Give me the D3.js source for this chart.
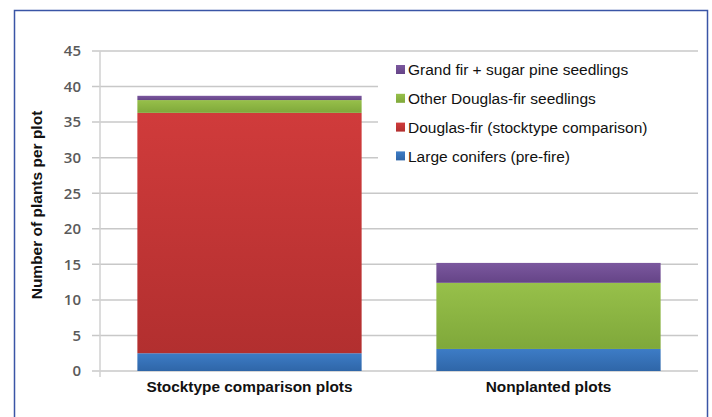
<!DOCTYPE html>
<html>
<head>
<meta charset="utf-8">
<script src="https://cdn.jsdelivr.net/npm/d3@7"></script>
<style>
  body { margin: 0; background: #fff; }
  svg { display: block; font-family: "Liberation Sans", Arial, sans-serif; }
</style>
</head>
<body>
<svg id="chart" width="712" height="417"></svg>
<script>
// ------ Data
var categories = ["Stocktype comparison plots", "Nonplanted plots"];
var seriesNames = ["Large conifers (pre-fire)", "Douglas-fir (stocktype comparison)", "Other Douglas-fir seedlings", "Grand fir + sugar pine seedlings"];
var largeConifers = [2.5, 3.1];
var douglasFirStock = [33.8, 0];
var otherDouglasFir = [1.8, 9.3];
var grandFirSugarPine = [0.6, 2.8];
var yTicks = [0, 5, 10, 15, 20, 25, 30, 35, 40, 45];

var colors = ["#3d7cc6", "#d03b3b", "#97c04a", "#7b589e"];
var darker = ["#2f66a8", "#b22f2f", "#7fa83a", "#654487"];

// rows for the stack
var rows = categories.map(function(c, i) {
  return { cat: c, s0: largeConifers[i], s1: douglasFirStock[i], s2: otherDouglasFir[i], s3: grandFirSugarPine[i] };
});
var stack = d3.stack().keys(["s0", "s1", "s2", "s3"])(rows);

// Margins and sizes
var margin = {left: 100, right: 14, top: 51, bottom: 46};
var width = 712 - margin.left - margin.right,
    height = 417 - margin.top - margin.bottom;

var svg = d3.select("#chart");

// outer frame
svg.append("rect")
  .attr("x", 14.5).attr("y", 10.5)
  .attr("width", 693).attr("height", 420)
  .attr("fill", "none")
  .attr("stroke", "#3a55a6")
  .attr("stroke-width", 1.5);

// gradients for bars
var defs = svg.append("defs");
colors.forEach(function(c, i) {
  var g = defs.append("linearGradient").attr("id", "grad" + i)
    .attr("x1", 0).attr("y1", 0).attr("x2", 0).attr("y2", 1);
  g.append("stop").attr("offset", "0%").attr("stop-color", c);
  g.append("stop").attr("offset", "100%").attr("stop-color", darker[i]);
});

var g = svg.append("g").attr("transform", "translate(" + margin.left + "," + margin.top + ")");

var x = d3.scaleBand().domain(categories).range([0, width]).paddingInner(0.25).paddingOuter(0.125);
var y = d3.scaleLinear().domain([0, 45]).range([height, 0]);

// gridlines
g.append("g").attr("class", "grid")
  .selectAll("line").data(yTicks).enter().append("line")
  .attr("x1", -8).attr("x2", width)
  .attr("y1", function(d) { return y(d); })
  .attr("y2", function(d) { return y(d); })
  .attr("stroke", "#c8c8c8")
  .attr("stroke-width", 1.5);

// y axis line
g.append("line")
  .attr("x1", 0).attr("x2", 0).attr("y1", 0).attr("y2", height + 6)
  .attr("stroke", "#d0d0d0").attr("stroke-width", 1.5);

// y axis labels
var yAxis = d3.axisLeft(y).tickValues(yTicks).tickSize(0).tickPadding(19);
g.append("g").call(yAxis)
  .call(function(s) { s.select(".domain").remove(); })
  .selectAll("text")
  .attr("fill", "#5a5a5a")
  .style("font-size", "15px")
  .style("font-family", "'Open Sans', sans-serif")
  .style("font-weight", "600");

// bars
g.selectAll(".layer").data(stack).enter().append("g")
  .attr("class", "layer")
  .attr("fill", function(d, i) { return "url(#grad" + i + ")"; })
  .selectAll("rect").data(function(d) { return d; }).enter().append("rect")
  .attr("x", function(d) { return x(d.data.cat); })
  .attr("width", x.bandwidth())
  .attr("y", function(d) { return y(d[1]); })
  .attr("height", function(d) { return Math.max(0, y(d[0]) - y(d[1])); });

// x labels
var xAxis = d3.axisBottom(x).tickSize(0).tickPadding(10);
g.append("g").attr("transform", "translate(0," + height + ")").call(xAxis)
  .call(function(s) { s.select(".domain").remove(); })
  .selectAll("text")
  .attr("fill", "#111")
  .style("font-size", "15.4px")
  .style("font-family", "'Liberation Sans', Arial, sans-serif")
  .style("font-weight", "bold");

// y axis title
svg.append("text")
  .attr("transform", "translate(37," + 205 + ") rotate(-90)")
  .attr("text-anchor", "middle")
  .attr("dy", "0.35em")
  .style("font-size", "15.5px")
  .style("font-weight", "bold")
  .attr("fill", "#111")
  .text("Number of plants per plot");

// legend
var legend = svg.append("g");
legend.append("rect")
  .attr("x", 378).attr("y", 53)
  .attr("width", 320).attr("height", 139)
  .attr("fill", "#fff");
var legendOrder = [3, 2, 1, 0];
var items = legend.selectAll(".item").data(legendOrder).enter().append("g")
  .attr("class", "item")
  .attr("transform", function(d, i) { return "translate(396," + (70 + i * 28.8) + ")"; });
items.append("rect")
  .attr("x", 0).attr("y", -5)
  .attr("width", 9).attr("height", 9)
  .attr("fill", function(d) { return "url(#grad" + d + ")"; });
items.append("text")
  .attr("x", 12).attr("dy", "0.35em")
  .style("font-size", "15.5px")
  .attr("fill", "#111")
  .text(function(d) { return seriesNames[d]; });
</script>
</body>
</html>
